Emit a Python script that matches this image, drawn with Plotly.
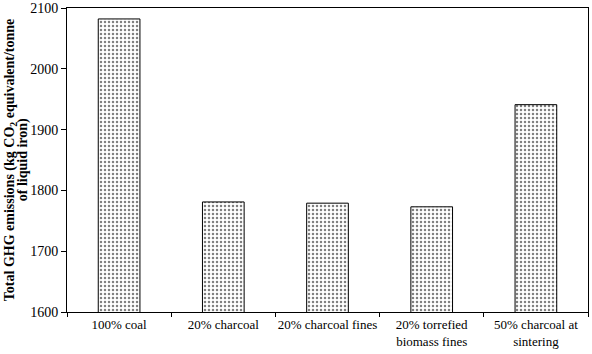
import plotly.graph_objects as go

categories = ["100% coal", "20% charcoal", "20% charcoal fines",
              "20% torrefied<br>biomass fines", "50% charcoal at<br>sintering"]
emissions = [2082, 1781, 1779, 1773, 1941]
y_ticks = [1600, 1700, 1800, 1900, 2000, 2100]
y_title_lines = ["<b>Total GHG emissions (kg CO<sub>2</sub> equivalent/tonne</b>",
                 "<b>of liquid iron)</b>"]

serif = "Liberation Serif"

fig = go.Figure()
fig.add_trace(go.Bar(
    x=categories, y=emissions, width=0.4,
    marker=dict(color="white", line=dict(color="black", width=1),
                pattern=dict(shape=".", fgcolor="black", bgcolor="white",
                             size=4, solidity=0.3)),
))

font = dict(family=serif, size=13, color="black")
fig.update_layout(
    width=592, height=354,
    margin=dict(l=67, r=4, t=8, b=42),
    paper_bgcolor="white", plot_bgcolor="white",
    showlegend=False, font=font,
    xaxis=dict(type="category", tickson="boundaries", ticks="outside",
               ticklen=4, tickcolor="black", showline=True, linecolor="black",
               linewidth=1, mirror=True, showgrid=False, tickfont=font,
               tickangle=0, automargin=False),
    yaxis=dict(range=[1600, 2100], tickvals=y_ticks, ticks="outside",
               ticklen=5, tickcolor="black", showline=True, linecolor="black",
               linewidth=1, mirror=True, showgrid=False, zeroline=False,
               tickfont=dict(family=serif, size=14, color="black"),
               automargin=False),
    annotations=[dict(text=t, textangle=-90, xref="paper", yref="paper",
                      x=xp, y=0.5, showarrow=False, xanchor="center",
                      yanchor="middle",
                      font=dict(family=serif, size=14, color="black"))
                 for t, xp in zip(y_title_lines, [-0.109, -0.084])],
)
fig.write_html("out.html")
